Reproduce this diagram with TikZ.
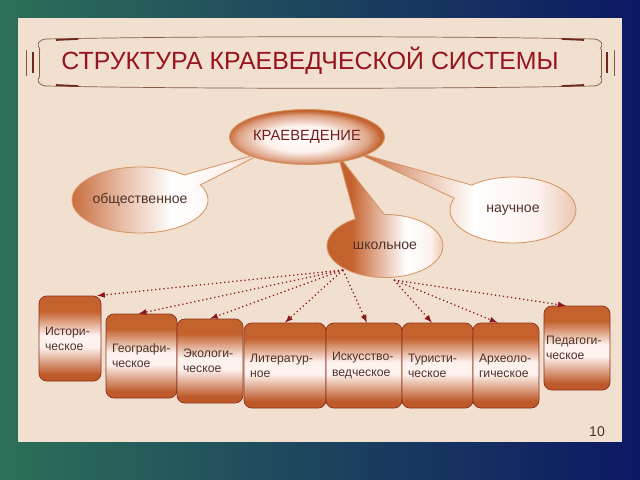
\documentclass[tikz,border=0pt]{standalone}
\usepackage{fontspec}
\setmainfont{Liberation Sans}
\usepackage{tikz}
\usetikzlibrary{arrows.meta}
\usetikzlibrary{arrows}
\usetikzlibrary{shapes.geometric,shapes.callouts}
\usetikzlibrary{calc}

\definecolor{bgGreen}{RGB}{45,112,88}
\definecolor{bgBlue}{RGB}{25,72,135}
\definecolor{bgNavy}{RGB}{12,24,100}
\definecolor{paper}{RGB}{241,224,208}
\definecolor{titleRed}{RGB}{150,20,30}
\definecolor{frameBrown}{RGB}{130,90,70}
\definecolor{frameDark}{RGB}{110,40,25}
\definecolor{rust}{RGB}{196,98,46}
\definecolor{rustDark}{RGB}{190,90,42}
\definecolor{blush}{RGB}{253,242,238}
\definecolor{edgeGold}{RGB}{214,150,100}
\definecolor{edgeRust}{RGB}{140,50,30}
\definecolor{arrowRed}{RGB}{140,25,25}
\definecolor{inkBrown}{RGB}{80,50,42}
\definecolor{inkRed}{RGB}{115,30,30}

\pgfdeclareverticalshading{boxshade}{100bp}{color(0bp)=(rustDark); color(29bp)=(rustDark); color(45bp)=(blush); color(52bp)=(blush); color(66bp)=(rust); color(100bp)=(rust)}
\pgfdeclareradialshading{krshade}{\pgfpoint{-2bp}{-2bp}}{color(0bp)=(white); color(12bp)=(blush); color(21bp)=(rust!55!blush); color(25bp)=(rust); color(50bp)=(rust)}
\pgfdeclarehorizontalshading{calshade}{100bp}{color(0bp)=(rust); color(25bp)=(rust); color(40bp)=(rust!35!blush); color(52bp)=(white); color(66bp)=(blush); color(75bp)=(rust!30!blush); color(100bp)=(rust!30!blush)}
\pgfdeclarehorizontalshading{schoolshade}{100bp}{color(0bp)=(rust); color(38bp)=(rust); color(50bp)=(rust!40!blush); color(60bp)=(white); color(70bp)=(blush); color(75bp)=(rust!30!blush); color(100bp)=(rust!30!blush)}

\begin{document}
\begin{tikzpicture}[x=0.025cm, y=-0.025cm, >=latex,
    box/.style={draw=edgeRust, line width=0.5pt, rounded corners=5.5pt, shading=boxshade, align=left, inner xsep=4.2pt, font=\fontsize{8.7}{10.8}\selectfont, text=inkBrown},
    bubble/.style={ellipse callout, draw=edgeGold, line width=0.6pt, shading=calshade, inner sep=0pt, font=\fontsize{10}{12}\selectfont, text=inkBrown},
    link/.style={->, arrowRed, dotted, line width=0.9pt}]
        \def\pix{0.025cm}

        \useasboundingbox (0,0) rectangle (640,480);
        \shade[left color=bgGreen, middle color=bgBlue, right color=bgNavy] (0,0) rectangle (640,480);
        \fill[paper] (18,18) rectangle (622,442);

        \draw[frameBrown, line width=0.5pt] (46,39) .. controls (200,36) and (440,36) .. (594,39);
        \draw[frameBrown, line width=0.5pt] (46,86) .. controls (200,89) and (440,89) .. (594,86);
        \draw[frameDark, line width=1.2pt] (56,40) -- (78,39) (562,39) -- (584,40) (56,85) -- (78,86) (562,86) -- (584,85);
        \draw[frameBrown, line width=0.5pt] (46,39) .. controls (38,40) and (36,45) .. (40,49) (46,86) .. controls (38,85) and (36,80) .. (40,76);
        \draw[frameBrown, line width=0.5pt] (594,39) .. controls (602,40) and (604,45) .. (600,49) (594,86) .. controls (602,85) and (604,80) .. (600,76);
        \draw[frameDark, line width=2pt] (33,52) -- (33,73) (607,52) -- (607,73);
        \draw[frameBrown, line width=0.5pt] (26,50) -- (26,76) (39,49) -- (39,77) (614,50) -- (614,76) (601,49) -- (601,77);
        \node[titleRed, font=\fontsize{17.7}{20}\selectfont] (ttl) at (310,61) {СТРУКТУРА КРАЕВЕДЧЕСКОЙ СИСТЕМЫ};

        \coordinate (kc) at (307,137);
        \node[bubble, minimum width={136*\pix}, minimum height={66*\pix}, callout absolute pointer={($(kc)+(-42,15)$)}, callout pointer arc=22] (obs) at (140,200) {общественное};
        \node[bubble, minimum width={126*\pix}, minimum height={66*\pix}, callout absolute pointer={($(kc)+(48,15)$)}, callout pointer arc=28] (nau) at (513,210) {научное};
        \node[bubble, shading=schoolshade, minimum width={116*\pix}, minimum height={63*\pix}, callout absolute pointer={($(kc)+(31,18)$)}, callout pointer arc=30] (shk) at (385,246) {школьное};
        \node[ellipse, draw=edgeGold, line width=0.6pt, shading=krshade, minimum width={155*\pix}, minimum height={55*\pix}, inner sep=0pt, font=\fontsize{10.5}{12}\selectfont, text=inkRed] (kra) at (kc) {КРАЕВЕДЕНИЕ};

        \node[box, minimum width={62*\pix}, minimum height={85*\pix}, text width={50*\pix}] (ist) at (70,338.5) {Истори-\\ческое};
        \node[box, minimum width={71*\pix}, minimum height={84*\pix}, text width={59*\pix}] (geo) at (141.5,356) {Географи-\\ческое};
        \node[box, minimum width={66*\pix}, minimum height={84*\pix}, text width={54*\pix}] (eko) at (210,361) {Экологи-\\ческое};
        \node[box, minimum width={82*\pix}, minimum height={85*\pix}, text width={70*\pix}] (lit) at (285,365.5) {Литератур-\\ное};
        \node[box, minimum width={76*\pix}, minimum height={85*\pix}, text width={64*\pix}] (isk) at (364,365.5) {Искусство-\\ведческое};
        \node[box, minimum width={71*\pix}, minimum height={85*\pix}, text width={59*\pix}] (tur) at (437.5,365.5) {Туристи-\\ческое};
        \node[box, minimum width={66*\pix}, minimum height={85*\pix}, text width={54*\pix}] (arh) at (506,365.5) {Археоло-\\гическое};
        \node[box, minimum width={66*\pix}, minimum height={84*\pix}, text width={62*\pix}, inner xsep=1.4pt] (ped) at (577,348) {Педагоги-\\ческое};

        \coordinate (sL) at (343,270);
        \coordinate (sR) at (394,280);

        \draw[link] (sL) -- ([xshift=-3pt]ist.north east);
        \draw[link] (sL) -- ([xshift=-2pt]geo.north);
        \draw[link] (sL) -- (eko.north);
        \draw[link] (sL) -- (lit.north);
        \draw[link] (sL) -- ([xshift=2pt]isk.north);
        \draw[link] (sR) -- ([xshift=-4pt]tur.north);
        \draw[link] (sR) -- ([xshift=-6pt]arh.north);
        \draw[link] (sR) -- ([xshift=-8pt]ped.north);

        \node[inkBrown, font=\fontsize{10}{12}\selectfont] (pg) at (597,432) {10};
    \end{tikzpicture}
\end{document}
